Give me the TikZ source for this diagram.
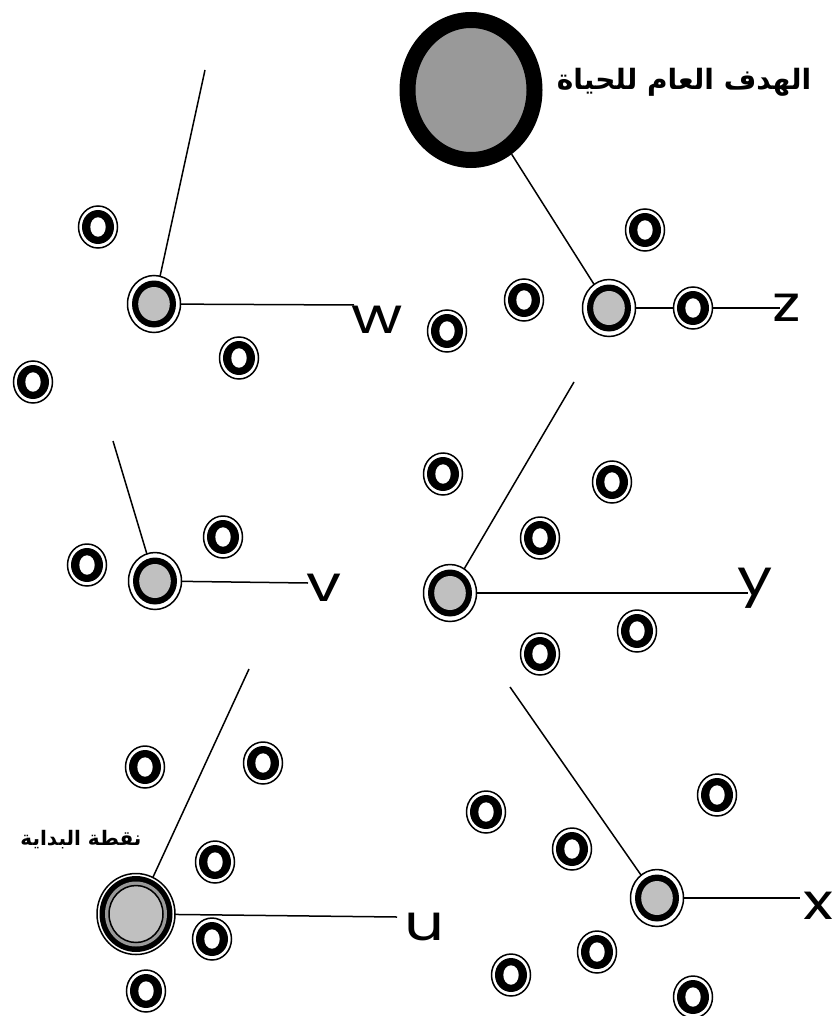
\documentclass[tikz,border=0pt]{standalone}
\usepackage{fontspec}
\usetikzlibrary{shapes.geometric}
\newfontfamily\arabicfont[Script=Arabic]{DejaVu Sans}
\newfontfamily\letterfont[FakeStretch=1.25]{Poppins}
\TeXXeTstate=1
\definecolor{hubgray}{RGB}{192,192,192}
\definecolor{goalgray}{RGB}{153,153,153}

\begin{document}
\begin{tikzpicture}[x=1pt,y=-1pt,line width=1.5pt,
  ring/.style={ellipse,draw,fill=white,inner sep=0pt,outer sep=0pt,
    minimum width=39pt,minimum height=42pt,
    path picture={
      \fill[black] (path picture bounding box.center) ellipse (16pt and 17pt);
      \fill[white] (path picture bounding box.center) ellipse (7.7pt and 9.7pt);}},
  hub/.style={ellipse,draw,fill=white,inner sep=0pt,outer sep=0pt,
    minimum width=53pt,minimum height=57pt,
    path picture={
      \fill[black] (path picture bounding box.center) ellipse (22pt and 23.5pt);
      \fill[hubgray] (path picture bounding box.center) ellipse (15.8pt and 17pt);}},
  start/.style={ellipse,draw,fill=white,inner sep=0pt,outer sep=0pt,
    minimum width=78pt,minimum height=81pt,
    path picture={
      \fill[black] (path picture bounding box.center) ellipse (36.5pt and 38pt);
      \fill[goalgray] (path picture bounding box.center) ellipse (31pt and 32.5pt);
      \filldraw[fill=hubgray] (path picture bounding box.center) ellipse (27pt and 28.5pt);}},
  goal/.style={ellipse,draw,line width=16pt,fill=goalgray,inner sep=0pt,outer sep=8pt,
    minimum width=127pt,minimum height=140pt},
  letter/.style={inner sep=0pt,font=\letterfont\fontsize{50}{50}\selectfont},
  arabic/.style={inner sep=0pt,font=\arabicfont\bfseries\fontsize{#1}{#1}\selectfont}]
  \useasboundingbox (0,0) rectangle (836,1016);

  \node[goal] (goal) at (471,90) {};
  \node[arabic=28] (goaltext) at (684,82) {\beginR الهدف العام للحياة\endR};

  \foreach \n/\x/\y in {
    1/98/227, 2/239/358, 3/33/382, 4/524/300, 5/447/331,
    6/693/308, 7/645/230, 8/443/474, 9/612/482, 10/540/538,
    11/223/537, 12/87/565, 13/637/631, 14/540/654, 15/145/767,
    16/263/763, 17/717/795, 18/486/812, 19/572/849, 20/215/862,
    21/212/939, 22/597/952, 23/511/975, 24/693/997, 25/146/991
  }
  {
    \node[ring] (r\n) at (\x,\y) {};
  }

  \node[hub] (w) at (154,304) {};
  \node[hub] (z) at (609,308) {};
  \node[hub] (v) at (155,581) {};
  \node[hub] (y) at (450,593) {};
  \node[hub] (x) at (657,898) {};
  \node[start] (u) at (136,914) {};
  \node[arabic=20] (starttext) at (81,840) {\beginR نقطة البداية\endR};

  \coordinate (wtop) at (205,70);
  \coordinate (vtop) at (113,441);
  \coordinate (ytop) at (574,382);
  \coordinate (xtop) at (510,687);
  \coordinate (utop) at (249,669);

  \coordinate (wend) at (354,305);
  \coordinate (zend) at (780,308);
  \coordinate (vend) at (308,583);
  \coordinate (yend) at (748,593);
  \coordinate (xend) at (800,898);
  \coordinate (uend) at (397,917);

  \draw (w) -- (wtop);
  \draw (goal) -- (z);
  \draw (v) -- (vtop);
  \draw (y) -- (ytop);
  \draw (x) -- (xtop);
  \draw (u) -- (utop);

  \draw (w) -- (wend);
  \draw (z) -- (r6) -- (zend);
  \draw (v) -- (vend);
  \draw (y) -- (yend);
  \draw (x) -- (xend);
  \draw (u) -- (uend);

  \node[letter] (labw) at (377,320) {w};
  \node[letter] (labz) at (787,308) {z};
  \node[letter] (labv) at (324,588) {v};
  \node[letter] (laby) at (755,588) {y};
  \node[letter] (labx) at (818,906) {x};
  \node[letter] (labu) at (424,927) {u};
\end{tikzpicture}
\end{document}
